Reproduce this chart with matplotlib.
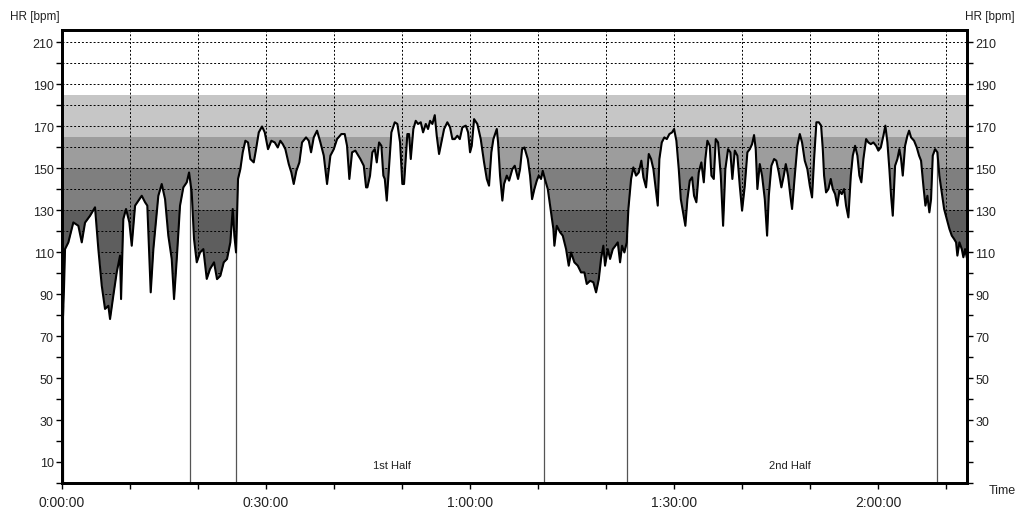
import matplotlib
matplotlib.use('Agg')
import matplotlib.pyplot as plt
from matplotlib.ticker import MultipleLocator, FuncFormatter
import numpy as np

plt.rcParams['font.family'] = ['Liberation Sans', 'DejaVu Sans']

# elapsed time [min] and heart rate [bpm]
time_min = [
    0.0, 0.15, 0.29, 0.44, 0.93, 1.66, 2.40, 2.90, 3.38, 4.12, 4.85, 5.34, 5.84, 6.32,
    6.81, 7.06, 7.54, 8.04, 8.53, 8.68, 9.01, 9.41, 9.90, 10.25, 10.74, 11.72, 12.21,
    12.54, 12.84, 13.04, 13.43, 14.16, 14.66, 15.15, 15.63, 16.13, 16.47, 16.87, 17.35,
    17.84, 18.34, 18.68, 19.07, 19.41, 19.81, 20.29, 20.78, 21.28, 21.76, 22.35, 22.79,
    23.28, 23.78, 24.26, 24.75, 25.10, 25.34, 25.59, 25.88, 26.22, 26.57, 26.96, 27.35,
    27.69, 28.19, 28.53, 28.93, 29.41, 29.81, 30.29, 30.78, 31.28, 31.72, 32.10, 32.46,
    32.84, 33.34, 33.72, 34.07, 34.46, 34.90, 35.29, 35.88, 36.28, 36.62, 37.01, 37.50,
    37.99, 38.49, 38.97, 39.46, 39.96, 40.44, 41.07, 41.57, 41.91, 42.25, 42.65, 43.13,
    43.87, 44.37, 44.71, 44.90, 45.29, 45.63, 45.99, 46.28, 46.62, 46.96, 47.25, 47.46,
    47.75, 48.09, 48.43, 48.93, 49.31, 49.71, 50.04, 50.29, 50.54, 50.78, 51.03, 51.28,
    51.66, 52.01, 52.35, 52.75, 53.09, 53.49, 53.82, 54.12, 54.46, 54.81, 55.10, 55.44,
    55.78, 56.18, 56.66, 57.06, 57.40, 57.75, 58.13, 58.49, 58.87, 59.37, 59.71, 60.00,
    60.25, 60.59, 61.07, 61.57, 62.06, 62.46, 62.79, 63.13, 63.43, 63.93, 64.12, 64.41,
    64.75, 65.00, 65.40, 65.74, 66.22, 66.57, 67.06, 67.35, 67.65, 67.99, 68.49, 68.82,
    69.12, 69.46, 69.81, 70.10, 70.44, 70.69, 71.07, 71.43, 71.91, 72.25, 72.40, 72.75,
    73.24, 73.63, 74.12, 74.51, 74.85, 75.34, 75.84, 76.32, 76.81, 77.16, 77.65, 78.13,
    78.53, 78.93, 79.26, 79.60, 79.85, 80.25, 80.59, 80.99, 81.37, 81.72, 82.06, 82.35,
    82.69, 83.04, 83.28, 83.68, 84.01, 84.41, 84.81, 85.19, 85.49, 85.88, 86.28, 86.62,
    86.96, 87.25, 87.60, 87.84, 88.19, 88.57, 88.93, 89.31, 89.71, 90.00, 90.34, 90.69,
    90.99, 91.32, 91.66, 91.96, 92.31, 92.65, 92.94, 93.28, 93.63, 94.01, 94.37, 94.60,
    94.90, 95.25, 95.49, 95.84, 96.13, 96.47, 96.87, 97.21, 97.54, 97.94, 98.28, 98.57,
    98.93, 99.31, 99.66, 100.00, 100.40, 100.78, 101.13, 101.47, 101.76, 102.01, 102.25,
    102.60, 102.94, 103.34, 103.68, 103.93, 104.31, 104.71, 105.04, 105.40, 105.78,
    106.13, 106.43, 106.76, 107.10, 107.35, 107.75, 108.13, 108.49, 108.82, 109.22,
    109.60, 109.96, 110.29, 110.59, 110.93, 111.28, 111.62, 111.87, 112.06, 112.35,
    112.69, 113.04, 113.34, 113.68, 114.01, 114.31, 114.66, 115.00, 115.29, 115.63,
    115.99, 116.28, 116.62, 116.96, 117.25, 117.54, 117.84, 118.24, 118.57, 118.93,
    119.31, 119.71, 120.04, 120.40, 120.78, 121.07, 121.37, 121.66, 121.91, 122.16,
    122.50, 122.84, 123.13, 123.38, 123.63, 123.97, 124.31, 124.56, 124.85, 125.29,
    125.69, 126.03, 126.32, 126.66, 126.96, 127.25, 127.54, 127.79, 128.04, 128.38,
    128.72, 129.01, 129.37, 129.71, 130.10, 130.49, 130.84, 131.18, 131.47, 131.66,
    131.96, 132.31, 132.54, 132.79, 133.04,
]
hr_bpm = [
    72, 80, 93, 111.4, 114.6, 124.1, 122.5, 114.6, 124, 127.3, 131.3, 111.4, 94, 82.9,
    84.4, 78.1, 89.2, 100.3, 108.3, 87.6, 125.7, 130.5, 124.1, 113, 132.1, 136.8, 133.7,
    132.1, 106.7, 90.8, 111.4, 136.8, 142.4, 135.2, 117.8, 106.7, 87.6, 106.7, 132.1,
    140.8, 143.2, 147.9, 138.4, 116.2, 105.1, 109.8, 111.4, 97.2, 101.9, 105.1, 97.1,
    98.7, 105.1, 106.7, 114.6, 130.5, 117.8, 109.8, 144.8, 149.5, 157.5, 163, 162.2,
    154.3, 152.7, 159, 167, 169.8, 167, 159, 163, 162.2, 159.8, 163, 161.4,
    159, 151.9, 147.9, 142.4, 148.7, 152.7, 162.2, 164.6, 163, 157.5, 164.6, 167.8,
    162.2, 155.9, 142.4, 155.9, 159, 163.8, 166.2, 166.2, 160.6, 144.8, 157.5, 158.3,
    154.3, 151.1, 140.8, 140.8, 146.4, 157.5, 159, 152.7, 162.2, 160.6, 146.4, 144.8,
    134.5, 151.1, 167, 171.8, 171, 162.2, 142.4, 142.4, 154.3, 166.2, 166.2, 154.3,
    168.6, 172.5, 171, 171.8, 167, 171, 168.6, 172.5, 171, 175.2, 165.4, 156.7,
    162.2, 168.6, 171.8, 169.4, 163.8, 163.8, 165.4, 163.8, 169.4, 170.2, 167, 157.5,
    160.6, 173.3, 171, 163.8, 152.7, 144.8, 141.6, 157.5, 163.8, 168.6, 162.2, 146.4,
    134.5, 142.4, 146.4, 144, 149.5, 151.1, 144.8, 149.5, 159, 159.8, 154.3, 146.4,
    135.2, 140, 144, 146.4, 144.8, 148.7, 144, 140, 128.9, 121, 113, 122.5,
    119.4, 117.8, 111.4, 103.5, 109.8, 105.1, 103.5, 100.3, 100.3, 94.8, 96.3, 95.6,
    90.8, 97.1, 106.7, 113, 103.5, 111.4, 106.7, 111.4, 113, 114.6, 105.1, 113,
    109.8, 114.6, 130.5, 144.8, 150.3, 146.4, 147.9, 153.5, 145.6, 140.8, 156.7, 154.3,
    149.5, 141.6, 132.1, 154.3, 162.2, 164.6, 163.8, 166.2, 167, 168.6, 163, 149.5,
    135.2, 128.9, 122.5, 135.2, 144, 145.6, 136.8, 133.7, 147.9, 152.7, 143.2, 154.3,
    163, 160.6, 146.4, 144.8, 163.8, 162.2, 146.4, 122.5, 149.5, 159, 157.5, 144.8,
    158.3, 155.9, 141.6, 129.7, 141.6, 157.5, 159, 161.4, 165.7, 159, 140,
    151.9, 146.4, 135.2, 117.8, 136.8, 151.1, 154.3, 153.5, 147.9, 140.8,
    146.4, 151.9, 146.4, 136.8, 130.5, 146.4, 160.6, 166.2, 162.2, 153.5,
    149.5, 141.6, 136, 154.3, 171.8, 171.8, 170.2, 159, 146.4, 138.4,
    140, 144.8, 140, 137.6, 132.1, 139.2, 137.6, 140, 132.1, 126.5,
    146.4, 155.9, 160.6, 155.9, 146.4, 143.2, 154.3, 163.8, 162.2, 161.4,
    162.2, 160.6, 158.3, 159.8, 165.4, 170.2, 162.2, 149.5, 136.8, 127.3,
    151.1, 154.3, 159, 154.3, 146.4, 160.6, 165.4, 167.8, 164.6, 163,
    159.8, 155.9, 153.5, 141.6, 132.1, 136.8, 128.9, 135.2, 155.9, 159,
    157.5, 146.4, 138.4, 130.5, 125.7, 121, 117.8, 116.2, 114.6, 108.3,
    114.6, 111.4, 107.5, 111.4, 107.5,
]

# heart-rate zones (lower, upper, grey)
zone_lo = [0, 130, 150, 165]
zone_hi = [130, 150, 165, 185]
zone_col = ['#5e5e5e', '#7f7f7f', '#9d9d9d', '#c6c6c6']

# lap markers [min]
laps = [0.2, 18.82, 25.59, 70.88, 83.09, 128.68]

t = np.array(time_min)
hr = np.array(hr_bpm)

fig = plt.figure(figsize=(10.17, 5.10), dpi=100)
ax = fig.add_axes([0.061, 0.051, 0.890, 0.888])
ax.set_xlim(0, 133.1)
ax.set_ylim(0, 215.7)

for lo, hi, c in zip(zone_lo, zone_hi, zone_col):
    ax.axhspan(lo, hi, color=c, lw=0, zorder=0)

ax.set_axisbelow(True)
ax.yaxis.set_major_locator(MultipleLocator(20, offset=10))
ax.yaxis.set_minor_locator(MultipleLocator(10))
ax.xaxis.set_major_locator(MultipleLocator(30))
ax.xaxis.set_minor_locator(MultipleLocator(10))
ax.grid(True, which='both', color='black', lw=0.7, ls=(0, (2, 2)))

ax.fill_between(t, hr, 0, color='white', lw=0, zorder=1)
ax.vlines(laps, 0, np.interp(laps, t, hr), color='#555555', lw=0.9, zorder=1.5)
ax.plot(t, hr, color='black', lw=1.5, zorder=2)

def hms(v, pos):
    s = int(round(v * 60))
    return f'{s // 3600}:{s % 3600 // 60:02d}:{s % 60:02d}'

ax.xaxis.set_major_formatter(FuncFormatter(hms))
ax.tick_params(which='both', direction='out', length=4, width=1, colors='black',
               labelsize=9, labelcolor='#222222')
ax.tick_params(axis='x', pad=5, labelsize=10)
ax.tick_params(axis='y', pad=2)
for s in ax.spines.values():
    s.set_linewidth(2)

ax2 = ax.twinx()
ax2.set_ylim(ax.get_ylim())
ax2.yaxis.set_major_locator(MultipleLocator(20, offset=10))
ax2.yaxis.set_minor_locator(MultipleLocator(10))
ax2.yaxis.set_major_formatter(FuncFormatter(lambda v, p: '' if v < 20 else f'{v:.0f}'))
ax2.tick_params(which='both', direction='out', length=4, width=1, labelsize=9,
                labelcolor='#222222', pad=2)
for s in ax2.spines.values():
    s.set_linewidth(2)

ax.text(48.5, 8.5, '1st Half', fontsize=8, ha='center', va='center', color='#222222', zorder=3)
ax.text(107.1, 8.5, '2nd Half', fontsize=8, ha='center', va='center', color='#222222', zorder=3)

fig.text(10 / 1017, 1 - 17 / 510, 'HR [bpm]', fontsize=8.5, ha='left', va='center', color='#222222')
fig.text(1015 / 1017, 1 - 17 / 510, 'HR [bpm]', fontsize=8.5, ha='right', va='center', color='#222222')
fig.text(1016 / 1017, 1 - 491 / 510, 'Time', fontsize=9, ha='right', va='center', color='#222222')

fig.savefig('out.png', dpi=100)
